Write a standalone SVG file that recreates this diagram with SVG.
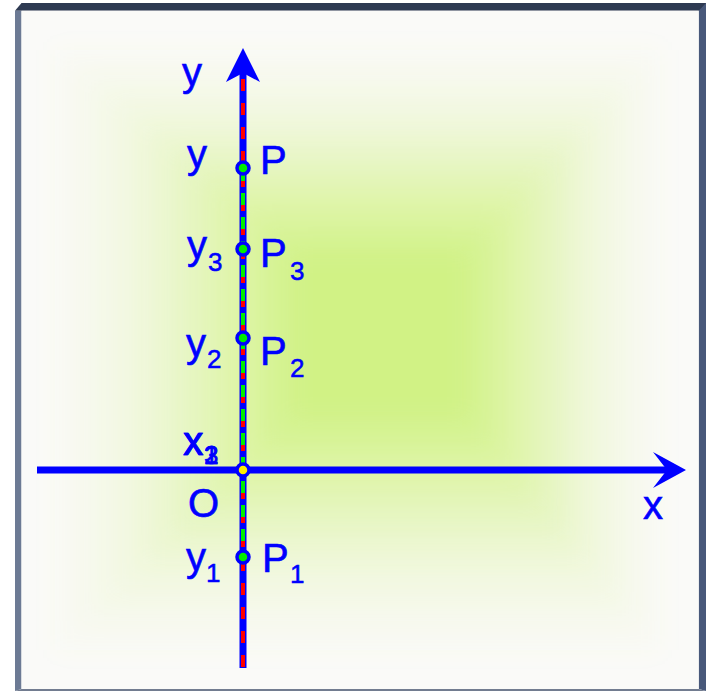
<svg xmlns="http://www.w3.org/2000/svg" width="706" height="691" viewBox="0 0 706 691">
  <defs>
    <style>
      .lbl { font-family: "Liberation Sans", Arial, sans-serif; font-size: 40px; fill: #0000ff; stroke: #0000ff; stroke-width: 0.6px; }
      .sub { font-family: "Liberation Sans", Arial, sans-serif; font-size: 26px; fill: #0000ff; stroke: #0000ff; stroke-width: 0.5px; }
      .glow { fill: #c0f05a; }
      .pt { fill: #00ee00; stroke: #0000ff; stroke-width: 3.5; }
      .axis { stroke: #0000ff; stroke-width: 7; fill: none; }
      .red { stroke: #ff0000; stroke-width: 4; stroke-dasharray: 12 12; fill: none; }
      .green { stroke: #00ee00; stroke-width: 4; stroke-dasharray: 12 12; fill: none; }
      .head { fill: #0000ff; }
    </style>
    <filter id="soft" x="-20%" y="-20%" width="140%" height="140%">
      <feGaussianBlur stdDeviation="12"/>
    </filter>
  </defs>

  <!-- frame -->
  <rect x="0" y="0" width="706" height="691" fill="#ffffff"/>
  <polygon points="15,10.7 21.5,3 706,3 706,10.7" fill="#2e3a52"/>
  <polygon points="15,10.7 21.5,10.7 21.5,689 15,691" fill="#6c7a94"/>
  <polygon points="698.7,10.7 706,3 706,691 698.7,689" fill="#48587a"/>
  <polygon points="15,691 21.5,689 698.7,689 706,691" fill="#727c90"/>
  <rect x="21.5" y="10.7" width="677.2" height="678.3" fill="#fafaf8"/>

  <!-- background glow -->
  <g filter="url(#soft)">
    <rect class="glow" fill-opacity="0.04" x="55" y="50" width="605" height="600"/>
    <rect class="glow" fill-opacity="0.05" x="84" y="75" width="552" height="546"/>
    <rect class="glow" fill-opacity="0.07" x="114" y="100" width="499" height="493"/>
    <rect class="glow" fill-opacity="0.09" x="143" y="125" width="446" height="439"/>
    <rect class="glow" fill-opacity="0.12" x="173" y="150" width="392" height="385"/>
    <rect class="glow" fill-opacity="0.15" x="202" y="175" width="339" height="331"/>
    <rect class="glow" fill-opacity="0.18" x="231" y="200" width="287" height="278"/>
    <rect class="glow" fill-opacity="0.21" x="261" y="225" width="233" height="224"/>
    <rect class="glow" fill-opacity="0.24" x="290" y="250" width="180" height="170"/>
  </g>

  <!-- connectors: axes -->
  <g id="connectors">
    <line class="axis" x1="37" y1="470" x2="670" y2="470"/>
    <path class="head" d="M686,470 L653,452 L667,470 L653,488 Z"/>
    <line class="axis" x1="243" y1="668" x2="243" y2="66"/>
    <path class="head" d="M243,48 L260,82 L243,73 L226,82 Z"/>
    <line class="red" x1="243" y1="79" x2="243" y2="671"/>
    <line class="green" x1="243" y1="168" x2="243" y2="557" stroke-dashoffset="-1"/>
  </g>

  <!-- axis labels -->
  <g id="label-y-axis">
    <text class="lbl" x="182" y="86">y</text>
  </g>
  <g id="label-x-axis">
    <text class="lbl" x="643" y="519">x</text>
  </g>

  <!-- nodes -->
  <g id="node-P">
    <circle class="pt" cx="243" cy="168" r="6"/>
    <text class="lbl" x="187" y="168">y</text>
    <text class="lbl" x="260" y="174">P</text>
  </g>
  <g id="node-P3">
    <circle class="pt" cx="243" cy="249" r="6"/>
    <text class="lbl" x="187" y="259">y</text>
    <text class="sub" x="208" y="271">3</text>
    <text class="lbl" x="260" y="267">P</text>
    <text class="sub" x="290" y="280">3</text>
  </g>
  <g id="node-P2">
    <circle class="pt" cx="243" cy="338" r="6"/>
    <text class="lbl" x="186" y="357">y</text>
    <text class="sub" x="207" y="368">2</text>
    <text class="lbl" x="260" y="365">P</text>
    <text class="sub" x="290" y="377">2</text>
  </g>
  <g id="node-O">
    <circle class="pt" cx="243" cy="470" r="6" style="fill:#ffee00"/>
    <text class="lbl" x="183" y="455">x</text>
    <text class="lbl" x="183.5" y="455">x</text>
    <text class="sub" x="204" y="464">1</text>
    <text class="sub" x="204" y="464">2</text>
    <text class="sub" x="204" y="464">3</text>
    <text class="lbl" x="188" y="517">O</text>
  </g>
  <g id="node-P1">
    <circle class="pt" cx="243" cy="557" r="6"/>
    <text class="lbl" x="186" y="571">y</text>
    <text class="sub" x="206" y="582">1</text>
    <text class="lbl" x="262" y="572">P</text>
    <text class="sub" x="290" y="583">1</text>
  </g>
</svg>
